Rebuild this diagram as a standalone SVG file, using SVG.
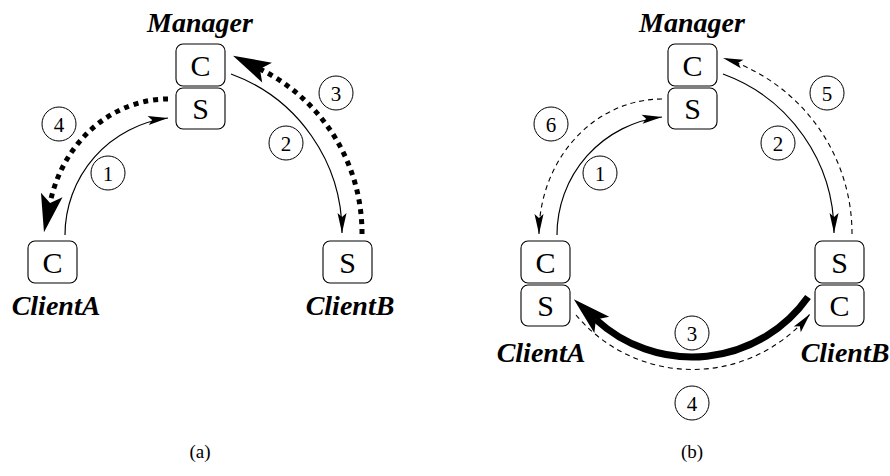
<svg xmlns="http://www.w3.org/2000/svg" width="890" height="476" viewBox="0 0 890 476">
<style>
.box{fill:#fff;stroke:#000;stroke-width:1.1}
text{font-family:'Liberation Serif','DejaVu Serif','Times New Roman',serif;fill:#000;text-anchor:middle}
.bl{font-size:30px}
.lbl{font-size:28px;font-weight:bold;font-style:italic}
.cap{font-size:19px}
.num{font-size:21px}
.circ{fill:none;stroke:#000;stroke-width:1}
.thin{fill:none;stroke:#000;stroke-width:1.2;marker-end:url(#ah)}
.dash{fill:none;stroke:#000;stroke-width:1.1;stroke-dasharray:5 4;marker-end:url(#ah)}
.dots{fill:none;stroke:#000;stroke-width:5;stroke-dasharray:5 5;marker-end:url(#big)}
.heavy{fill:none;stroke:#000;stroke-width:7;marker-end:url(#big)}
</style>
<defs>
<marker id="ah" markerUnits="userSpaceOnUse" orient="auto" refX="20" refY="0" markerWidth="22" markerHeight="12" viewBox="-1 -6 22 12" overflow="visible">
<path d="M20,0 L0,-4.5 L4,0 L0,4.5 Z" fill="#000"/>
</marker>
<marker id="big" markerUnits="userSpaceOnUse" orient="auto" refX="8" refY="0" markerWidth="40" markerHeight="24" viewBox="-1 -12 40 24" overflow="visible">
<path d="M38,0 L0,-11 L8,0 L0,11 Z" fill="#000"/>
</marker>
</defs>

<g id="connectors">
<path class="thin" d="M65,235 A118,118 0 0 1 168,118"/>
<path class="thin" d="M231,74 A169,169 0 0 1 342,233"/>
<path class="dots" d="M362,234 A183,183 0 0 0 259.9,69"/>
<path class="dots" d="M168,99 A121,134 0 0 0 50.1,202.9"/>
<path class="thin" d="M557,235 A118.5,118.5 0 0 1 662,117"/>
<path class="dash" d="M662,99 A123,135 0 0 0 539,234"/>
<path class="thin" d="M723,74 A169,169 0 0 1 834,233"/>
<path class="dash" d="M852,234 A184,184 0 0 0 723,58"/>
<path class="heavy" d="M808,297 A142,142 0 0 1 595.9,319.5"/>
<path class="dash" d="M576,315 A152,152 0 0 0 810,314"/>
</g>

<g id="labels-a">
<g id="a-n4"><circle class="circ" cx="59" cy="124" r="17"/><text class="num" x="59" y="131.5">4</text></g>
<g id="a-n1"><circle class="circ" cx="108" cy="173" r="17"/><text class="num" x="108" y="180.5">1</text></g>
<g id="a-n2"><circle class="circ" cx="286" cy="143" r="17"/><text class="num" x="286" y="150.5">2</text></g>
<g id="a-n3"><circle class="circ" cx="336" cy="93" r="17"/><text class="num" x="336" y="100.5">3</text></g>
</g>
<g id="labels-b">
<g id="b-n6"><circle class="circ" cx="551" cy="124" r="17"/><text class="num" x="551" y="131.5">6</text></g>
<g id="b-n1"><circle class="circ" cx="600" cy="173" r="17"/><text class="num" x="600" y="180.5">1</text></g>
<g id="b-n2"><circle class="circ" cx="778" cy="143" r="17"/><text class="num" x="778" y="150.5">2</text></g>
<g id="b-n5"><circle class="circ" cx="827" cy="93" r="17"/><text class="num" x="827" y="100.5">5</text></g>
<g id="b-n3"><circle class="circ" cx="692" cy="333" r="17"/><text class="num" x="692" y="340.5">3</text></g>
<g id="b-n4"><circle class="circ" cx="692" cy="403" r="17"/><text class="num" x="692" y="410.5">4</text></g>
</g>

<g id="a-manager">
<text class="lbl" x="200" y="32">Manager</text>
<rect class="box" x="176" y="44" width="49" height="42" rx="7"/><text class="bl" x="200.5" y="76">C</text>
<rect class="box" x="176" y="88" width="49" height="41" rx="7"/><text class="bl" x="200.5" y="119">S</text>
</g>
<g id="a-clientA">
<rect class="box" x="28" y="241" width="49" height="42" rx="7"/><text class="bl" x="52.5" y="273">C</text>
<text class="lbl" x="56" y="315">ClientA</text>
</g>
<g id="a-clientB">
<rect class="box" x="323" y="241" width="49" height="42" rx="7"/><text class="bl" x="347.5" y="273">S</text>
<text class="lbl" x="350" y="315">ClientB</text>
</g>
<text class="cap" x="200" y="458">(a)</text>

<g id="b-manager">
<text class="lbl" x="692" y="32">Manager</text>
<rect class="box" x="668" y="44" width="49" height="42" rx="7"/><text class="bl" x="692.5" y="76">C</text>
<rect class="box" x="668" y="88" width="49" height="41" rx="7"/><text class="bl" x="692.5" y="119">S</text>
</g>
<g id="b-clientA">
<rect class="box" x="521" y="241" width="49" height="42" rx="7"/><text class="bl" x="545.5" y="273">C</text>
<rect class="box" x="521" y="285" width="49" height="41" rx="7"/><text class="bl" x="545.5" y="316">S</text>
<text class="lbl" x="541" y="362">ClientA</text>
</g>
<g id="b-clientB">
<rect class="box" x="815" y="241" width="49" height="42" rx="7"/><text class="bl" x="839.5" y="273">S</text>
<rect class="box" x="815" y="285" width="49" height="41" rx="7"/><text class="bl" x="839.5" y="316">C</text>
<text class="lbl" x="845" y="362">ClientB</text>
</g>
<text class="cap" x="692" y="458">(b)</text>
</svg>
